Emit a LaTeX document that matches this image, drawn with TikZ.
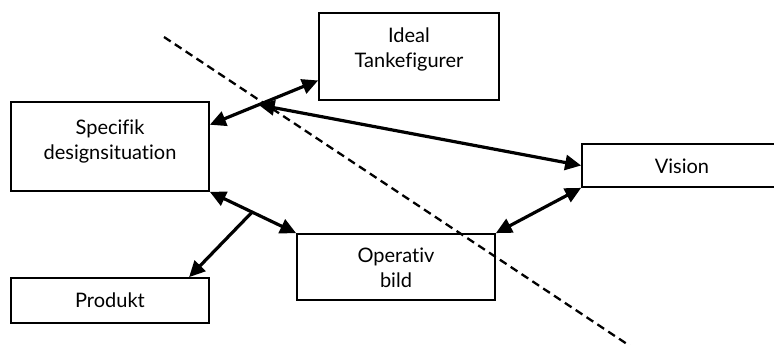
\documentclass[tikz,border=0pt]{standalone}
\usepackage{fontspec}
\setmainfont{Lato}[Ligatures=NoCommon]
\usetikzlibrary{arrows.meta,calc}
\begin{document}
\begin{tikzpicture}[x=1pt,y=-1pt,
  box/.style={draw,line width=1.7pt,rectangle,inner sep=0pt},
  txt/.style={align=center,inner sep=0pt,font=\fontsize{20}{25}\selectfont},
  conn/.style={line width=3.2pt,{Triangle[length=16pt,width=15pt]}-{Triangle[length=16pt,width=15pt]}},
  oneway/.style={line width=3.2pt,-{Triangle[length=16pt,width=15pt]}},
  divider/.style={line width=2.3pt,dash pattern=on 8pt off 5pt}]
\useasboundingbox (0,0) rectangle (774,345);
\clip (0,0) rectangle (774,345);
\node[box,minimum width=180pt,minimum height=87pt] (ideal) at (409,56.5) {};
\node[txt] (idealt) at (409,49) {Ideal\\Tankefigurer};
\node[box,minimum width=198pt,minimum height=89pt] (spec) at (110,146.5) {};
\node[txt] (spect) at (110,141) {Specifik\\designsituation};
\node[box,minimum width=198pt,minimum height=45pt] (prod) at (110,300.5) {};
\node[txt] (prodt) at (110,300) {Produkt};
\node[box,minimum width=198pt,minimum height=66pt] (oper) at (396,267) {};
\node[txt] (opert) at (396,268) {Operativ\\bild};
\node[box,minimum width=200pt,minimum height=43pt] (vision) at (682,165.5) {};
\node[txt] (visiont) at (682,166) {Vision};
\coordinate (sa) at ($(spec.north east)!0.26!(spec.south east)$);
\coordinate (ia) at ($(ideal.south west)!0.23!(ideal.north west)$);
\draw[conn] (sa) -- (ia);
\coordinate (J) at ($(sa)!0.45!(ia)$);
\draw[conn] (J) -- (vision.west);
\draw[conn] (spec.south east) -- (oper.north west);
\coordinate (B) at ($(spec.south east)!0.49!(oper.north west)$);
\coordinate (pe) at ($(prod.north west)!0.896!(prod.north east)$);
\draw[oneway] (B) -- (pe);
\draw[conn] (oper.north east) -- (vision.south west);
\coordinate (d1) at (164,37);
\coordinate (d2) at (630,346);
\draw[divider] (d1) -- (d2);
\end{tikzpicture}
\end{document}
